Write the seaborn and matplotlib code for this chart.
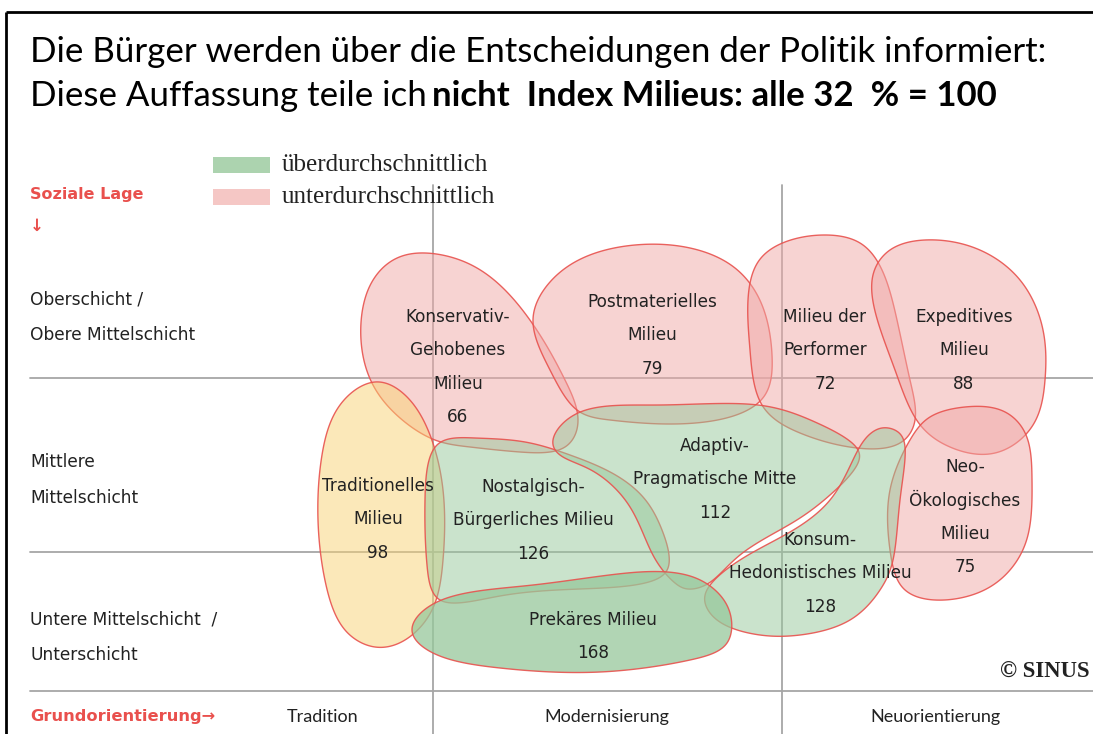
import numpy as np
import pandas as pd
import matplotlib
matplotlib.use("Agg")
import matplotlib.pyplot as plt
from matplotlib.path import Path
from matplotlib.patches import PathPatch, Rectangle
import seaborn as sns

# ---------------- data ----------------
milieu_names = [
    "Konservativ-Gehobenes Milieu", "Postmaterielles Milieu", "Milieu der Performer",
    "Expeditives Milieu", "Traditionelles Milieu", "Neo-Ökologisches Milieu",
    "Nostalgisch-Bürgerliches Milieu", "Adaptiv-Pragmatische Mitte",
    "Konsum-Hedonistisches Milieu", "Prekäres Milieu",
]
milieu_labels = [
    ["Konservativ-", "Gehobenes", "Milieu"], ["Postmaterielles", "Milieu"],
    ["Milieu der", "Performer"], ["Expeditives", "Milieu"],
    ["Traditionelles", "Milieu"], ["Neo-", "Ökologisches", "Milieu"],
    ["Nostalgisch-", "Bürgerliches Milieu"], ["Adaptiv-", "Pragmatische Mitte"],
    ["Konsum-", "Hedonistisches Milieu"], ["Prekäres Milieu"],
]
milieu_index = [66, 79, 72, 88, 98, 75, 126, 112, 128, 168]
milieu_group = ["unter", "unter", "unter", "unter", "durchschnitt", "unter",
                "über", "über", "über", "über"]
legend_labels = ["überdurchschnittlich", "unterdurchschnittlich"]
row_labels = [["Oberschicht /", "Obere Mittelschicht"], ["Mittlere", "Mittelschicht"],
              ["Untere Mittelschicht  /", "Unterschicht"]]
col_labels = ["Tradition", "Modernisierung", "Neuorientierung"]
title_1 = "Die Bürger werden über die Entscheidungen der Politik informiert:"
title_2a = "Diese Auffassung teile ich "
title_2b = "nicht  Index Milieus: alle 32  % = 100"

df = pd.DataFrame({"milieu": milieu_names, "index": milieu_index, "group": milieu_group})

# ---------------- layout (pixel geometry of the map) ----------------
shapes = {
    "Konservativ-Gehobenes Milieu": [(420,253),(465,262),(505,290),(540,335),(565,380),(578,420),
                                     (565,447),(520,452),(470,447),(435,440),(400,418),(373,385),
                                     (361,340),(368,290),(390,262)],
    "Postmaterielles Milieu": [(533,320),(550,282),(585,257),(635,245),(690,248),(735,268),(762,305),
                               (772,355),(765,395),(730,417),(667,424),(610,420),(577,410),(550,370)],
    "Milieu der Performer": [(748,300),(758,262),(785,242),(825,235),(860,243),(882,270),(897,320),
                             (910,380),(915,420),(900,443),(857,448),(800,433),(762,405),(750,350)],
    "Expeditives Milieu": [(873,275),(890,250),(925,240),(975,248),(1020,280),(1043,330),(1045,380),
                           (1033,425),(995,453),(950,447),(918,422),(895,370),(876,315)],
    "Traditionelles Milieu": [(375,382),(405,395),(428,430),(443,490),(443,560),(432,610),(405,640),
                              (375,647),(345,630),(326,585),(318,520),(322,455),(340,405)],
    "Neo-Ökologisches Milieu": [(910,440),(930,417),(965,407),(1003,411),(1026,435),(1032,480),
                                (1028,535),(1010,570),(980,592),(935,600),(903,588),(890,550),(890,490)],
    "Nostalgisch-Bürgerliches Milieu": [(437,445),(475,438),(525,442),(570,455),(612,473),(643,497),
                                        (662,530),(668,568),(645,583),(580,589),(500,596),(440,600),
                                        (427,565),(425,500)],
    "Adaptiv-Pragmatische Mitte": [(553,440),(578,413),(660,405),(758,405),(815,422),(856,447),(858,463),
                                   (830,495),(792,523),(740,555),(709,583),(688,589),(675,583),(654,557),
                                   (630,507),(591,470),(560,455)],
    "Konsum-Hedonistisches Milieu": [(706,592),(740,560),(790,532),(830,500),(852,462),(866,438),(882,428),
                                     (898,432),(905,447),(900,500),(893,560),(880,590),(850,620),(800,635),
                                     (760,635),(725,625),(708,610)],
    "Prekäres Milieu": [(412,630),(437,602),(533,585),(640,572),(690,576),(715,590),(730,613),(727,643),
                        (690,660),(600,672),(500,668),(433,653)],
}
label_pos = {
    "Konservativ-Gehobenes Milieu": (458, 317), "Postmaterielles Milieu": (652, 302),
    "Milieu der Performer": (825, 317), "Expeditives Milieu": (964, 317),
    "Traditionelles Milieu": (378, 486), "Neo-Ökologisches Milieu": (965, 467),
    "Nostalgisch-Bürgerliches Milieu": (533, 487), "Adaptiv-Pragmatische Mitte": (715, 446),
    "Konsum-Hedonistisches Milieu": (820, 540), "Prekäres Milieu": (593, 620),
}
LINE = 33.3

sns.set_theme(style="white")
plt.rcParams["font.family"] = ["DejaVu Sans"]

pal = dict(zip(["über", "unter", "durchschnitt"], sns.color_palette(["#97c89b", "#f1a9a7", "#f9d374"])))
EDGE = "#e8524e"
RED = "#e9504d"
GRID = "#a6a6a6"
TXT = "#222222"

W, H = 1093, 734
fig = plt.figure(figsize=(W / 100, H / 100), dpi=100)
ax = fig.add_axes([0, 0, 1, 1])
ax.set_xlim(0, W)
ax.set_ylim(H, 0)
ax.axis("off")
renderer = fig.canvas.get_renderer()


def fit(x, y, s, width, **kw):
    t = ax.text(x, y, s, **kw)
    bb = t.get_window_extent(renderer=renderer)
    t.set_fontsize(t.get_fontsize() * width / bb.width)
    return t


def periodic_spline(vals, t):
    n = len(vals)
    h = np.diff(t)
    A = np.zeros((n, n))
    r = np.zeros(n)
    for i in range(n):
        hp = h[i - 1]
        hn = h[i]
        A[i, (i - 1) % n] += hp
        A[i, i] += 2 * (hp + hn)
        A[i, (i + 1) % n] += hn
        r[i] = 6 * ((vals[(i + 1) % n] - vals[i]) / hn - (vals[i] - vals[i - 1]) / hp)
    return np.linalg.solve(A, r)


def smooth_path(pts, per_seg=30):
    p = np.array(pts, dtype=float)
    n = len(p)
    q = np.vstack([p, p[:1]])
    d = np.sqrt(np.hypot(*np.diff(q, axis=0).T))
    t = np.concatenate([[0], np.cumsum(d)])
    out = []
    Ms = [periodic_spline(p[:, k], t) for k in range(2)]
    for i in range(n):
        h = t[i + 1] - t[i]
        s = np.linspace(t[i], t[i + 1], per_seg, endpoint=False)
        seg = []
        for k in range(2):
            M = Ms[k]
            y0, y1 = p[i, k], p[(i + 1) % n, k]
            m0, m1 = M[i], M[(i + 1) % n]
            v = (m0 * (t[i + 1] - s) ** 3 / (6 * h) + m1 * (s - t[i]) ** 3 / (6 * h)
                 + (y0 / h - m0 * h / 6) * (t[i + 1] - s) + (y1 / h - m1 * h / 6) * (s - t[i]))
            seg.append(v)
        out.append(np.column_stack(seg))
    v = np.vstack(out)
    v = np.vstack([v, v[:1]])
    codes = [Path.MOVETO] + [Path.LINETO] * (len(v) - 2) + [Path.CLOSEPOLY]
    return Path(v, codes)


# border
ax.plot([6, W], [12, 12], color="black", lw=2, solid_capstyle="butt")
ax.plot([6, 6], [12, H], color="black", lw=2, solid_capstyle="butt")

# grid
for yy in (378, 552, 691):
    ax.plot([30, W], [yy, yy], color=GRID, lw=1.3, zorder=1)
for xx in (433, 782):
    ax.plot([xx, xx], [185, H], color=GRID, lw=1.3, zorder=1)

# blobs
for k, row in df.iterrows():
    name = row["milieu"]
    alpha = 0.75 if row["index"] > 150 else 0.5
    path = smooth_path(shapes[name])
    ax.add_patch(PathPatch(path, facecolor=pal[row["group"]], alpha=alpha,
                           edgecolor="none", zorder=2 + k))
    ax.add_patch(PathPatch(path, facecolor="none", edgecolor=EDGE, lw=1.0,
                           alpha=0.9, zorder=2 + k))

# blob labels
ref = ax.text(0, 0, "Pragmatische Mitte", fontsize=11)
bw = ref.get_window_extent(renderer=renderer).width
lab_fs = 11 * 164 / bw
ref.remove()
for name, lines, val in zip(milieu_names, milieu_labels, milieu_index):
    x0, y0 = label_pos[name]
    for j, s in enumerate(lines + [str(val)]):
        ax.text(x0, y0 + j * LINE, s, ha="center", va="center", fontsize=lab_fs,
                color=TXT, zorder=30)

# title
t1 = fit(30, 62, title_1, 1015, fontsize=24, family="Lato", color="black", va="baseline")
fs_t = t1.get_fontsize()
ax.text(30, 106, title_2a, fontsize=fs_t, family="Lato", color="black", va="baseline")
fit(432, 106, title_2b, 563, fontsize=fs_t, family="Lato", weight="bold", color="black",
    va="baseline")

# axis captions
fit(30, 195, "Soziale Lage", 113, fontsize=12, weight="bold", color=RED, va="center")
ax.text(30, 226, "↓", fontsize=12, weight="bold", color=RED, va="center")
fit(30, 717, "Grundorientierung→", 183, fontsize=12, weight="bold", color=RED, va="center")

# legend
ax.add_patch(Rectangle((213, 157), 57, 16, facecolor=pal["über"], alpha=0.8, edgecolor="none"))
ax.add_patch(Rectangle((213, 189), 57, 16, facecolor=pal["unter"], alpha=0.65, edgecolor="none"))
lg = fit(282, 165, legend_labels[0], 208, fontsize=14, family="Liberation Serif", color=TXT,
         va="center")
ax.text(282, 197, legend_labels[1], fontsize=lg.get_fontsize(), family="Liberation Serif",
        color=TXT, va="center")

# row labels
ref = ax.text(0, 0, "Obere Mittelschicht", fontsize=11)
rw = ref.get_window_extent(renderer=renderer).width
row_fs = 11 * 166 / rw
ref.remove()
row_y = [(300, 335), (462, 498), (620, 655)]
for lines, ys in zip(row_labels, row_y):
    for s, yy in zip(lines, ys):
        ax.text(30, yy, s, fontsize=row_fs, color=TXT, va="center")

# column labels
ref = ax.text(0, 0, "Modernisierung", fontsize=12, family="Lato")
cw = ref.get_window_extent(renderer=renderer).width
col_fs = 12 * 125 / cw
ref.remove()
for s, xx in zip(col_labels, (323, 607, 935)):
    ax.text(xx, 717, s, fontsize=col_fs, family="Lato", color=TXT, ha="center", va="center")

# copyright
cp = fit(1000, 672, "© SINUS", 90, fontsize=14, family="Liberation Serif", weight="bold",
         color=TXT, va="center")

fig.savefig("out.png", dpi=100)
